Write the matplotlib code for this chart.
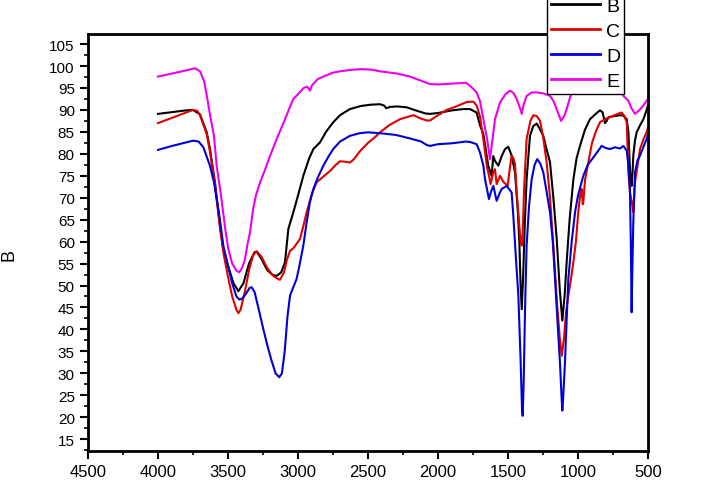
import numpy as np
import matplotlib
matplotlib.use("Agg")
import matplotlib.pyplot as plt
from matplotlib.ticker import MultipleLocator

plt.rcParams['font.family'] = ['Liberation Sans', 'DejaVu Sans']

# 曲线 B (黑)
wn_B = [4000, 3900, 3800, 3750, 3700, 3652, 3629, 3593, 3557, 3533, 3500, 3460, 3426, 3390, 3350,
        3310, 3295, 3260, 3220, 3180, 3152, 3120, 3093, 3069, 3033, 3000, 2962, 2920, 2890, 2843,
        2800, 2748, 2700, 2629, 2550, 2480, 2414, 2385, 2370, 2340, 2290, 2224, 2150, 2090, 2057,
        2000, 1900, 1819, 1771, 1724, 1700, 1676, 1641, 1617, 1605, 1593, 1569, 1545, 1521, 1498,
        1474, 1450, 1430, 1419, 1410, 1402, 1392, 1380, 1367, 1343, 1320, 1295, 1270, 1248, 1224,
        1200, 1176, 1152, 1130, 1112, 1095, 1081, 1060, 1033, 1010, 986, 950, 914, 870, 843,
        825, 807, 795, 783, 740, 700, 676, 652, 640, 633, 625, 617, 610, 605, 593,
        581, 557, 534, 515, 500]
T_B = [89.1, 89.5, 89.9, 90.0, 89.0, 84.9, 81.1, 73.5, 63.6, 58.3, 54.5, 50.5, 48.7, 50.5, 55.0,
       57.6, 57.7, 56.0, 53.5, 52.4, 52.2, 53.0, 55.3, 62.9, 66.7, 70.5, 75.0, 79.0, 81.1, 82.6,
       85.0, 87.2, 88.8, 90.2, 90.9, 91.2, 91.3, 91.0, 90.4, 90.7, 90.8, 90.6, 89.8, 89.2, 89.1,
       89.3, 89.9, 90.2, 90.2, 89.4, 86.5, 84.5, 77.3, 75.0, 79.5, 78.4, 77.3, 79.5, 81.1, 81.6,
       79.6, 75.8, 67.0, 60.0, 50.0, 44.6, 52.0, 64.0, 74.2, 84.1, 86.3, 86.9, 85.5, 84.1, 81.0,
       78.1, 70.0, 60.6, 49.0, 42.0, 48.0, 55.3, 65.0, 74.2, 79.0, 81.8, 85.5, 87.9, 89.2, 89.9,
       89.5, 87.0, 87.5, 88.3, 88.6, 88.8, 88.7, 87.9, 85.0, 79.6, 74.0, 72.7, 76.0, 79.6, 83.0,
       84.9, 86.5, 87.8, 89.5, 91.0]

# 曲线 C (红)
wn_C = [4000, 3900, 3800, 3750, 3720, 3700, 3652, 3629, 3593, 3557, 3533, 3500, 3470, 3440, 3426,
        3410, 3380, 3350, 3320, 3295, 3260, 3220, 3180, 3150, 3129, 3100, 3080, 3057, 3033, 2986,
        2962, 2938, 2900, 2867, 2820, 2771, 2730, 2700, 2660, 2629, 2600, 2560, 2500, 2450, 2414,
        2350, 2271, 2176, 2120, 2080, 2057, 2000, 1938, 1870, 1795, 1748, 1724, 1700, 1676, 1650,
        1641, 1624, 1605, 1593, 1581, 1557, 1533, 1502, 1490, 1474, 1462, 1450, 1438, 1420, 1410,
        1402, 1395, 1385, 1367, 1340, 1319, 1295, 1271, 1250, 1224, 1200, 1176, 1150, 1130, 1116,
        1100, 1085, 1069, 1050, 1033, 1015, 998, 985, 974, 966, 962, 950, 926, 900, 870,
        843, 800, 748, 700, 688, 671, 652, 640, 629, 615, 605, 593, 569, 557, 530,
        510, 500]
T_C = [87.0, 88.2, 89.4, 90.0, 89.8, 88.8, 84.5, 80.5, 73.0, 63.0, 57.5, 52.0, 47.5, 44.5, 43.7,
       44.5, 48.5, 53.5, 57.0, 57.8, 56.5, 54.0, 52.3, 51.6, 51.3, 53.0, 55.8, 57.9, 58.5, 60.6,
       63.5, 66.7, 71.0, 73.5, 74.8, 76.1, 77.5, 78.3, 78.2, 78.0, 78.8, 80.5, 82.5, 83.8, 84.9,
       86.5, 87.9, 88.8, 88.0, 87.6, 87.6, 88.8, 90.0, 90.8, 91.8, 91.9, 91.0, 88.5, 83.3, 77.0,
       75.8, 73.1, 75.8, 76.5, 73.1, 75.0, 73.6, 72.7, 76.0, 79.6, 79.0, 77.7, 71.3, 64.0, 60.0,
       59.1, 62.0, 72.0, 83.4, 87.5, 88.8, 88.6, 87.5, 84.0, 78.1, 70.0, 59.1, 46.0, 38.0, 34.0,
       38.0, 44.0, 47.7, 51.5, 55.3, 60.0, 66.7, 70.5, 72.0, 68.5, 69.0, 74.0, 78.1, 82.5, 85.3,
       87.2, 88.0, 88.7, 89.3, 89.4, 88.7, 87.2, 75.8, 71.2, 69.0, 66.7, 73.5, 78.5, 81.1, 83.5,
       84.9, 86.0]

# 曲线 D (蓝)
wn_D = [4000, 3900, 3800, 3748, 3710, 3676, 3629, 3600, 3560, 3533, 3500, 3470, 3440, 3419, 3400,
        3370, 3345, 3331, 3310, 3280, 3248, 3220, 3190, 3160, 3134, 3115, 3095, 3075, 3057, 3035,
        3010, 2990, 2962, 2940, 2915, 2890, 2860, 2819, 2780, 2748, 2700, 2629, 2560, 2500, 2414,
        2300, 2200, 2120, 2080, 2057, 2000, 1900, 1800, 1771, 1724, 1700, 1676, 1664, 1636, 1620,
        1605, 1581, 1560, 1545, 1509, 1474, 1462, 1445, 1426, 1410, 1400, 1395, 1388, 1378, 1367,
        1350, 1331, 1310, 1291, 1270, 1248, 1225, 1200, 1180, 1164, 1145, 1129, 1118, 1112, 1105,
        1093, 1080, 1069, 1045, 1021, 1000, 962, 930, 890, 860, 831, 800, 771, 735, 700,
        676, 652, 640, 629, 622, 617, 611, 605, 593, 575, 557, 530, 510, 500]
T_D = [80.9, 81.8, 82.6, 83.0, 82.8, 81.5, 77.3, 73.5, 65.5, 59.0, 54.5, 50.5, 47.5, 46.8, 47.0,
       48.2, 49.5, 49.6, 48.5, 44.5, 40.1, 36.5, 33.0, 30.0, 29.1, 30.0, 35.0, 43.0, 47.7, 49.5,
       51.5, 54.5, 59.1, 64.0, 69.0, 72.0, 74.5, 77.3, 79.5, 81.1, 82.8, 84.1, 84.7, 84.9, 84.7,
       84.3, 83.5, 82.8, 82.0, 81.8, 82.2, 82.4, 82.8, 82.7, 82.2, 80.3, 77.3, 74.2, 69.7, 71.5,
       72.7, 69.3, 71.0, 72.0, 72.7, 71.2, 65.9, 57.0, 47.7, 33.0, 22.0, 20.3, 28.0, 45.0, 59.1,
       68.0, 74.2, 77.5, 78.8, 77.8, 75.8, 71.5, 66.7, 60.0, 51.5, 41.0, 32.5, 25.0, 21.5, 25.0,
       32.5, 43.0, 51.5, 60.0, 66.7, 70.5, 75.0, 77.5, 79.2, 80.5, 81.8, 81.3, 81.1, 81.5, 81.2,
       81.8, 80.7, 77.5, 72.0, 58.0, 43.9, 55.0, 64.4, 75.8, 78.5, 79.6, 81.8, 83.4, 84.5]

# 曲线 E (品红)
wn_E = [4000, 3900, 3800, 3736, 3700, 3670, 3650, 3629, 3600, 3581, 3550, 3520, 3498, 3470, 3440,
        3419, 3400, 3380, 3360, 3343, 3320, 3300, 3271, 3240, 3200, 3152, 3100, 3060, 3033, 3000,
        2960, 2935, 2914, 2900, 2860, 2819, 2750, 2700, 2629, 2550, 2480, 2414, 2295, 2200, 2100,
        2057, 2000, 1900, 1843, 1800, 1771, 1724, 1700, 1676, 1650, 1629, 1610, 1593, 1557, 1520,
        1486, 1460, 1438, 1415, 1402, 1390, 1367, 1330, 1295, 1250, 1200, 1175, 1152, 1121, 1100,
        1081, 1060, 1045, 1020, 950, 850, 760, 700, 676, 640, 620, 593, 560, 534, 500]
T_E = [97.6, 98.3, 99.0, 99.5, 98.8, 96.5, 93.0, 89.0, 84.0, 77.3, 70.5, 63.0, 58.3, 55.0, 53.4,
       53.0, 54.0, 55.8, 59.5, 62.1, 67.5, 70.6, 73.5, 76.0, 79.5, 83.4, 87.3, 90.5, 92.5, 93.6,
       95.0, 95.3, 94.4, 95.6, 97.0, 97.6, 98.5, 98.8, 99.1, 99.3, 99.2, 98.8, 98.3, 97.6, 96.4,
       95.9, 95.8, 96.0, 96.1, 96.2, 95.5, 94.0, 92.0, 87.9, 83.5, 78.8, 83.5, 87.9, 91.7, 93.5,
       94.4, 93.8, 92.5, 90.5, 89.1, 91.0, 93.2, 94.0, 94.0, 93.8, 93.2, 92.0, 90.2, 87.5, 88.5,
       90.2, 92.5, 94.0, 95.5, 96.5, 96.8, 96.5, 95.0, 93.2, 92.1, 90.5, 89.1, 90.0, 91.0, 92.5]

series = [("B", wn_B, T_B, "#000000"),
          ("C", wn_C, T_C, "#e00000"),
          ("D", wn_D, T_D, "#0000d8"),
          ("E", wn_E, T_E, "#ee00ee")]

fig = plt.figure(figsize=(7.14, 4.89), dpi=100)
ax = fig.add_axes([88/714, 37/489, 560/714, 417/489])

for name, xs, ys, c in series:
    ax.plot(xs, ys, color=c, lw=1.5, label=name)

ax.set_xlim(4500, 500)
ax.set_ylim(12.3, 107.3)
ax.xaxis.set_major_locator(MultipleLocator(500))
ax.xaxis.set_minor_locator(MultipleLocator(250))
ax.yaxis.set_major_locator(MultipleLocator(5))
ax.yaxis.set_minor_locator(MultipleLocator(2.5))
ax.set_yticks(np.arange(15, 106, 5))
ax.tick_params(which='major', direction='out', length=6, width=1.5, labelsize=11)
ax.tick_params(which='minor', direction='out', length=3, width=1.2)
ax.tick_params(axis='x', labelsize=12)
for s in ax.spines.values():
    s.set_linewidth(2)

fig.text(9/714, 1 - 255/489, "B", rotation=90, ha='center', va='center', fontsize=13)

leg = ax.legend(loc='lower left', bbox_to_anchor=(547/714, 1 - 95/489),
                bbox_transform=fig.transFigure, fontsize=14, frameon=True,
                fancybox=False, framealpha=1, edgecolor='black', borderpad=0.2,
                labelspacing=0.38, handlelength=2.5, handletextpad=0.35, borderaxespad=0)
leg.get_frame().set_linewidth(1)
for l in leg.get_lines():
    l.set_linewidth(2)

fig.savefig("out.png", dpi=100)
